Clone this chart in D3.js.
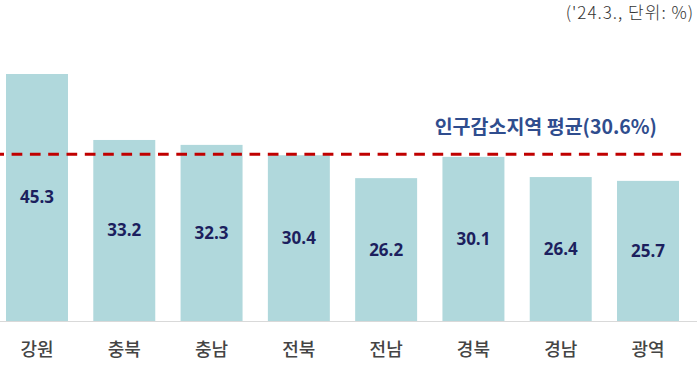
<!DOCTYPE html>
<html><head><meta charset="utf-8">
<script src="https://cdn.jsdelivr.net/npm/d3@7"></script>
<style>body{margin:0;background:#fff}svg{display:block}</style>
</head><body>
<svg id="c" width="700" height="370"></svg>
<script>
const categories = ["강원","충북","충남","전북","전남","경북","경남","광역"];
const values = [45.3,33.2,32.3,30.4,26.2,30.1,26.4,25.7];
const average = 30.6;
const averageLabel = "인구감소지역 평균(30.6%)";
const noteLabel = "('24.3., 단위: %)";

const svg = d3.select("#c");
const x = d3.scaleBand().domain(categories).range([6, 679]).paddingInner(0.29).paddingOuter(0);
const y = d3.scaleLinear().domain([0, 45.3]).range([321, 74]);

svg.selectAll("rect.bar").data(values).join("rect")
  .attr("class","bar")
  .attr("x",(d,i)=>x(categories[i]))
  .attr("width",x.bandwidth())
  .attr("y",d=>y(d))
  .attr("height",d=>y(0)-y(d))
  .attr("fill","#b0d8dc");

// baseline
svg.append("line").attr("x1",0).attr("x2",697).attr("y1",y(0)+0.5).attr("y2",y(0)+0.5)
  .attr("stroke","#d9d9d9").attr("stroke-width",1);

// value labels
svg.selectAll("text.val").data(values).join("text")
  .attr("class","val")
  .attr("x",(d,i)=>x(categories[i])+x.bandwidth()/2)
  .attr("y",d=>(y(d)+y(0))/2)
  .attr("dy","0.35em")
  .attr("text-anchor","middle")
  .attr("font-family","'Open Sans','Noto Sans',sans-serif")
  .attr("font-weight","bold")
  .attr("font-size",17)
  .attr("fill","#1c1f5e")
  .text(d=>d.toFixed(1));

// category labels
const xAxis = d3.axisBottom(x).tickSize(0).tickPadding(0);
const gx = svg.append("g").attr("transform",`translate(0,${y(0)})`).call(xAxis);
gx.select(".domain").remove();
gx.selectAll("text")
  .attr("y",29).attr("dy","0.35em")
  .attr("font-family","'Noto Sans CJK KR',sans-serif")
  .attr("font-weight",500)
  .attr("font-size",18)
  .attr("fill","#444");

// average dashed line
svg.append("line").attr("x1",0).attr("x2",682).attr("y1",y(average)).attr("y2",y(average))
  .attr("stroke","#c00000").attr("stroke-width",3)
  .attr("stroke-dasharray","10.7,7.6").attr("stroke-dashoffset",6.7);

svg.append("text").attr("x",657).attr("y",y(average)-27).attr("dy","0.35em")
  .attr("text-anchor","end")
  .attr("font-family","'Noto Sans CJK KR',sans-serif")
  .attr("font-weight","bold").attr("font-size",19.5)
  .attr("fill","#2f4d8e").text(averageLabel);

svg.append("text").attr("x",694).attr("y",19)
  .attr("text-anchor","end")
  .attr("font-family","'Noto Sans CJK KR',sans-serif")
  .attr("font-weight",300).attr("font-size",17)
  .attr("letter-spacing",1)
  .attr("fill","#333").text(noteLabel);
</script>
</body></html>
